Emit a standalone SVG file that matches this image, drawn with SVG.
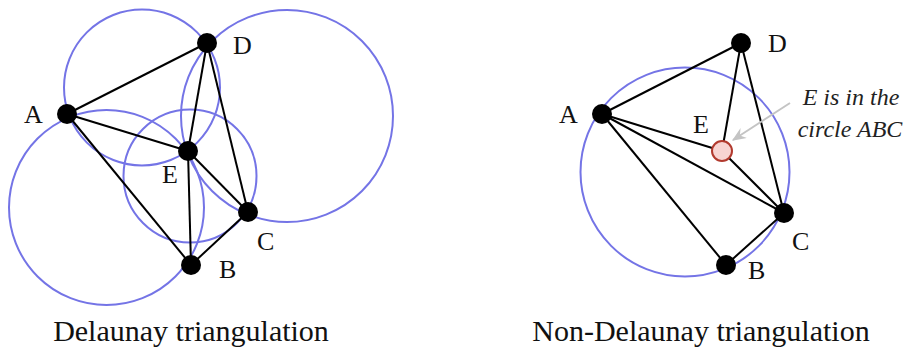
<svg xmlns="http://www.w3.org/2000/svg" width="908" height="349" viewBox="0 0 908 349">
<style>
.circ{fill:none;stroke:#7474e6;stroke-width:2}
.edge{stroke:#000;stroke-width:2;fill:none}
.pt{fill:#000}
.lbl{font-family:"Liberation Serif","Times New Roman",serif;font-size:26px;fill:#111}
.cap{font-family:"Liberation Serif","Times New Roman",serif;font-size:30px;fill:#111;text-anchor:middle}
.note{font-family:"Liberation Serif","Times New Roman",serif;font-size:24px;font-style:italic;fill:#222;text-anchor:middle}
</style>
<defs>
<marker id="arr" viewBox="0 0 12 10" refX="11" refY="5" markerWidth="7" markerHeight="6" orient="auto" markerUnits="strokeWidth">
<path d="M0,0 L12,5 L0,10 L4,5 z" fill="#c4c4c4"/>
</marker>
</defs>
<rect width="908" height="349" fill="#fff"/>
<g id="circles-left">
<circle class="circ" cx="142" cy="87.5" r="78"/>
<circle class="circ" cx="106.5" cy="207.5" r="97.5"/>
<circle class="circ" cx="190" cy="176" r="66.5"/>
<circle class="circ" cx="287" cy="116" r="106"/>
</g>
<g id="circles-right">
<circle class="circ" cx="685" cy="172" r="104.5"/>
</g>
<g id="connectors">
<line class="edge" x1="67" y1="114" x2="207" y2="43"/>
<line class="edge" x1="67" y1="114" x2="188" y2="151"/>
<line class="edge" x1="67" y1="114" x2="191" y2="265"/>
<line class="edge" x1="207" y1="43" x2="188" y2="151"/>
<line class="edge" x1="207" y1="43" x2="248" y2="212"/>
<line class="edge" x1="188" y1="151" x2="248" y2="212"/>
<line class="edge" x1="188" y1="151" x2="191" y2="265"/>
<line class="edge" x1="191" y1="265" x2="248" y2="212"/>
<line class="edge" x1="602" y1="114" x2="741" y2="43"/>
<line class="edge" x1="602" y1="114" x2="722" y2="151"/>
<line class="edge" x1="602" y1="114" x2="784" y2="213"/>
<line class="edge" x1="602" y1="114" x2="726" y2="265"/>
<line class="edge" x1="741" y1="43" x2="722" y2="151"/>
<line class="edge" x1="741" y1="43" x2="784" y2="213"/>
<line class="edge" x1="722" y1="151" x2="784" y2="213"/>
<line class="edge" x1="726" y1="265" x2="784" y2="213"/>
<line x1="790" y1="103" x2="733" y2="140" stroke="#c4c4c4" stroke-width="2" marker-end="url(#arr)"/>
</g>
<g id="L-A"><circle class="pt" cx="67" cy="114" r="10"/><text class="lbl" x="24" y="123">A</text></g>
<g id="L-D"><circle class="pt" cx="207" cy="43" r="10"/><text class="lbl" x="233" y="54">D</text></g>
<g id="L-E"><circle class="pt" cx="188" cy="151" r="10"/><text class="lbl" x="162" y="183">E</text></g>
<g id="L-C"><circle class="pt" cx="248" cy="212" r="10"/><text class="lbl" x="257" y="250">C</text></g>
<g id="L-B"><circle class="pt" cx="191" cy="265" r="10"/><text class="lbl" x="219" y="278">B</text></g>
<g id="R-A"><circle class="pt" cx="602" cy="114" r="10"/><text class="lbl" x="559" y="123">A</text></g>
<g id="R-D"><circle class="pt" cx="741" cy="43" r="10"/><text class="lbl" x="768" y="52">D</text></g>
<g id="R-E"><circle cx="722" cy="151" r="10" fill="#f8d4d2" stroke="#b23a2e" stroke-width="2"/><text class="lbl" x="693" y="133">E</text></g>
<g id="R-C"><circle class="pt" cx="784" cy="213" r="10"/><text class="lbl" x="792" y="250">C</text></g>
<g id="R-B"><circle class="pt" cx="726" cy="265" r="10"/><text class="lbl" x="748" y="279">B</text></g>
<g id="note"><text class="note" x="851" y="105">E is in the</text><text class="note" x="850" y="137">circle ABC</text></g>
<text class="cap" x="191" y="341">Delaunay triangulation</text>
<text class="cap" x="701" y="341">Non-Delaunay triangulation</text>
</svg>
